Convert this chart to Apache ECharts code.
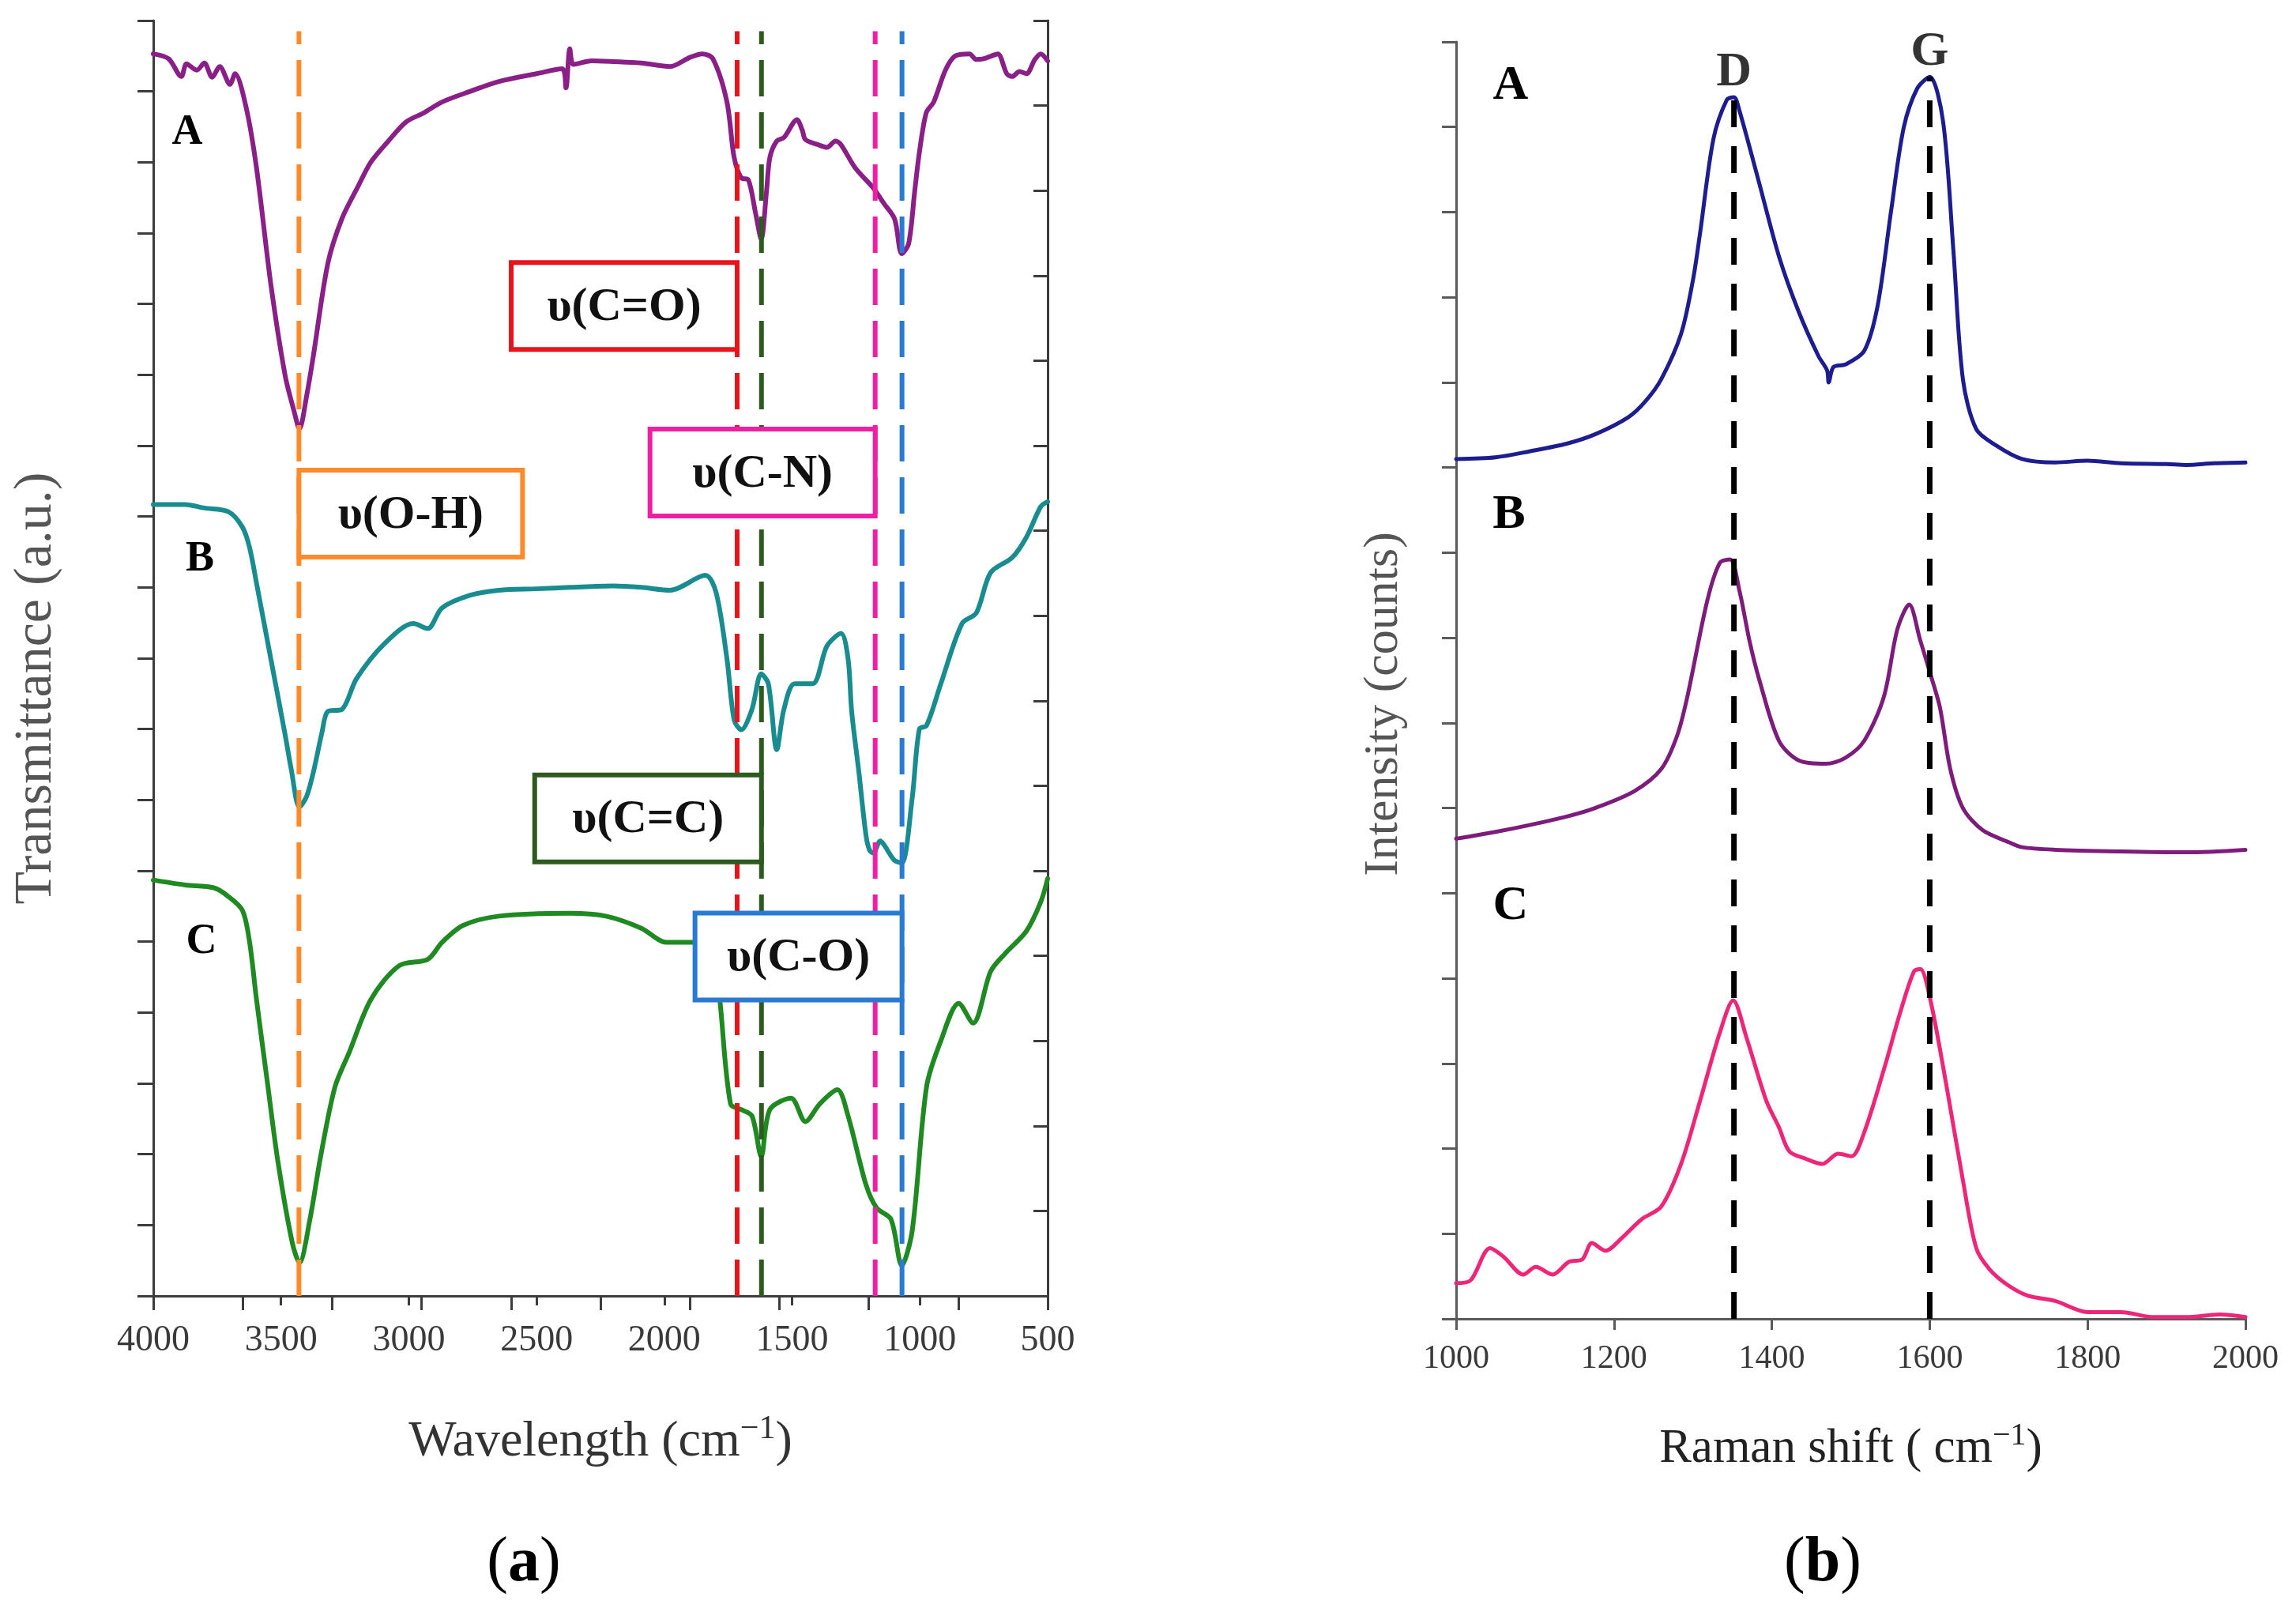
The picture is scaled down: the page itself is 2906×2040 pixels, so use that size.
<!DOCTYPE html>
<html>
<head>
<meta charset="utf-8">
<script src="https://cdn.jsdelivr.net/npm/echarts@6/dist/echarts.min.js"></script>
<style>
html, body { margin: 0; padding: 0; background: #fff; }
#chart { width: 2906px; height: 2040px; }
</style>
</head>
<body>
<div id="chart"></div>
<script>
// (a) FTIR spectra, wavenumber (cm-1) and stacked transmittance (a.u.)
var ftirA_x = [4000, 3940, 3890, 3870, 3830, 3800, 3770, 3740, 3700, 3680, 3637, 3596, 3540, 3484, 3450, 3428, 3400, 3373, 3317, 3261, 3200, 3149, 3080, 3010, 2940, 2870, 2760, 2647, 2500, 2400, 2385, 2370, 2355, 2285, 2200, 2090, 1978, 1900, 1852, 1810, 1755, 1727, 1699, 1671, 1643, 1621, 1600, 1587, 1560, 1532, 1481, 1460, 1448, 1400, 1364, 1330, 1309, 1253, 1183, 1141, 1099, 1071, 1044, 1020, 1002, 975, 946, 900, 862, 806, 780, 751, 720, 695, 660, 639, 610, 583, 550, 527, 500];
var ftirA_y = [17.53, 17.46, 17.21, 17.39, 17.30, 17.40, 17.20, 17.35, 17.10, 17.25, 16.78, 15.92, 14.28, 12.99, 12.50, 12.24, 12.70, 13.28, 14.57, 15.21, 15.65, 16.00, 16.30, 16.57, 16.70, 16.85, 17.00, 17.14, 17.25, 17.32, 17.05, 17.60, 17.38, 17.43, 17.42, 17.40, 17.35, 17.48, 17.53, 17.46, 16.85, 16.07, 15.78, 15.75, 15.28, 14.92, 15.60, 16.07, 16.30, 16.35, 16.60, 16.45, 16.32, 16.25, 16.21, 16.30, 16.25, 15.92, 15.64, 15.42, 15.20, 14.71, 14.85, 15.60, 16.14, 16.70, 16.85, 17.30, 17.50, 17.53, 17.45, 17.46, 17.50, 17.53, 17.25, 17.21, 17.28, 17.25, 17.45, 17.53, 17.43];

var ftirB_x = [4000, 3875, 3800, 3707, 3651, 3623, 3596, 3540, 3484, 3460, 3428, 3400, 3373, 3340, 3317, 3261, 3205, 3094, 2982, 2926, 2870, 2759, 2647, 2500, 2368, 2200, 2090, 1978, 1839, 1797, 1755, 1727, 1699, 1657, 1621, 1593, 1560, 1532, 1490, 1420, 1364, 1309, 1281, 1267, 1239, 1211, 1197, 1183, 1155, 1141, 1100, 1071, 1030, 1002, 974, 918, 835, 779, 723, 639, 583, 527, 500];
var ftirB_y = [11.17, 11.17, 11.12, 11.07, 10.85, 10.56, 10.06, 8.99, 7.92, 7.43, 6.90, 7.05, 7.40, 7.95, 8.25, 8.28, 8.71, 9.21, 9.49, 9.42, 9.71, 9.89, 9.96, 9.98, 10.00, 10.02, 10.00, 9.96, 10.17, 9.92, 8.99, 8.13, 7.99, 8.28, 8.78, 8.64, 7.71, 8.28, 8.64, 8.64, 9.17, 9.35, 8.99, 8.25, 7.40, 6.50, 6.29, 6.25, 6.42, 6.37, 6.15, 6.11, 7.03, 8.00, 8.05, 8.64, 9.49, 9.64, 10.21, 10.42, 10.71, 11.14, 11.21];

var ftirC_x = [4000, 3875, 3763, 3707, 3651, 3623, 3596, 3554, 3512, 3456, 3428, 3387, 3345, 3289, 3233, 3149, 3038, 2926, 2870, 2787, 2647, 2368, 2229, 2090, 1992, 1894, 1810, 1783, 1741, 1699, 1657, 1621, 1587, 1504, 1448, 1392, 1323, 1281, 1211, 1169, 1113, 1071, 1030, 974, 918, 848, 792, 723, 667, 583, 527, 500];
var ftirC_y = [5.87, 5.80, 5.76, 5.64, 5.44, 4.99, 4.18, 3.03, 1.89, 0.75, 0.47, 1.08, 1.97, 2.95, 3.44, 4.18, 4.66, 4.75, 4.99, 5.23, 5.36, 5.40, 5.36, 5.19, 4.99, 4.99, 4.91, 4.18, 2.71, 2.63, 2.54, 1.97, 2.63, 2.79, 2.46, 2.71, 2.91, 2.54, 1.57, 1.24, 1.08, 0.43, 0.92, 2.95, 3.60, 4.13, 3.85, 4.58, 4.83, 5.15, 5.56, 5.89];

var ftirTickLabels = ['4000', '3500', '3000', '2500', '2000', '1500', '1000', '500'];
var bandNames = ['υ(O-H)', 'υ(C=O)', 'υ(C=C)', 'υ(C-N)', 'υ(C-O)'];
var bandWavenumbers = [3430, 1715, 1620, 1175, 1070];

// (b) Raman spectra, shift (cm-1) and stacked intensity (counts)
var ramanA_x = [1000, 1050, 1093, 1140, 1176, 1218, 1240, 1260, 1285, 1300, 1309, 1326, 1343, 1352, 1359, 1384, 1409, 1434, 1459, 1470, 1472, 1478, 1493, 1517, 1534, 1551, 1567, 1584, 1600, 1617, 1630, 1642, 1659, 1684, 1717, 1759, 1800, 1842, 1900, 1925, 1960, 2000];
var ramanA_y = [10.10, 10.12, 10.19, 10.28, 10.39, 10.59, 10.78, 11.04, 11.57, 12.20, 12.75, 13.86, 14.32, 14.35, 14.19, 13.34, 12.48, 11.83, 11.31, 11.14, 11.00, 11.18, 11.21, 11.37, 11.90, 13.01, 13.99, 14.45, 14.59, 14.06, 12.55, 11.04, 10.45, 10.26, 10.10, 10.06, 10.08, 10.05, 10.04, 10.03, 10.05, 10.06];

var ramanB_x = [1000, 1050, 1093, 1140, 1176, 1226, 1260, 1280, 1293, 1318, 1334, 1347, 1359, 1372, 1384, 1409, 1434, 1468, 1493, 1517, 1542, 1559, 1574, 1588, 1601, 1613, 1626, 1642, 1667, 1700, 1717, 1759, 1842, 1925, 2000];
var ramanB_y = [5.64, 5.72, 5.80, 5.90, 6.00, 6.20, 6.46, 6.85, 7.31, 8.43, 8.88, 8.92, 8.55, 7.95, 7.51, 6.79, 6.56, 6.52, 6.59, 6.79, 7.31, 8.10, 8.39, 7.97, 7.57, 7.18, 6.46, 6.00, 5.74, 5.60, 5.54, 5.51, 5.49, 5.48, 5.51];

var ramanC_x = [1000, 1018, 1043, 1060, 1085, 1101, 1122, 1143, 1160, 1172, 1189, 1210, 1235, 1260, 1285, 1309, 1334, 1351, 1368, 1393, 1409, 1422, 1443, 1464, 1484, 1501, 1517, 1542, 1563, 1580, 1588, 1601, 1621, 1642, 1659, 1676, 1700, 1725, 1759, 1800, 1842, 1884, 1925, 1967, 2000];
var ramanC_y = [0.42, 0.45, 0.83, 0.73, 0.52, 0.61, 0.52, 0.67, 0.70, 0.89, 0.80, 0.95, 1.17, 1.32, 1.82, 2.56, 3.36, 3.74, 3.30, 2.56, 2.25, 1.97, 1.88, 1.82, 1.94, 1.91, 2.19, 2.93, 3.61, 4.08, 4.11, 3.74, 2.75, 1.63, 0.83, 0.58, 0.39, 0.27, 0.21, 0.08, 0.08, 0.02, 0.02, 0.05, 0.02];

var ramanTickLabels = ['1000', '1200', '1400', '1600', '1800', '2000'];
var ramanBandNames = ['D', 'G'];
var ramanBandShifts = [1352, 1600];
var ramanBandTops = [14.35, 14.59];

function pairs(xs, ys) {
    return xs.map(function (x, i) { return [x, ys[i]]; });
}

var serif = '"Liberation Serif", "Times New Roman", serif';
var bandColors = ['#ff8a2a', '#e8141c', '#2d5a1e', '#ee1fa0', '#2a7ad2'];
var bandBoxes = [
    { level: 11.04, side: 1, width: 283 },
    { level: 13.97, side: -1, width: 286 },
    { level: 6.74, side: -1, width: 287 },
    { level: 11.62, side: -1, width: 285 },
    { level: 4.79, side: -1, width: 262 }
];
var dashTop = 17.85;

var myChart = echarts.init(document.getElementById('chart'));

var ftirMin = +ftirTickLabels[ftirTickLabels.length - 1];
var ftirMax = +ftirTickLabels[0];
var ramanMin = +ramanTickLabels[0];
var ramanMax = +ramanTickLabels[ramanTickLabels.length - 1];

function curve(name, data, color, xi, width) {
    return {
        name: name, type: 'line', xAxisIndex: xi, yAxisIndex: xi === 2 ? 2 : 0,
        data: data, showSymbol: false, smooth: 0.3,
        lineStyle: { color: color, width: width, cap: 'round', join: 'round' }, z: 2, silent: true
    };
}

var series = [
    curve('A', pairs(ftirA_x, ftirA_y), '#8b1f88', 0, 6),
    curve('B', pairs(ftirB_x, ftirB_y), '#188c8e', 0, 6),
    curve('C', pairs(ftirC_x, ftirC_y), '#1f8a22', 0, 6),
    curve('A', pairs(ramanA_x, ramanA_y), '#1d1d8f', 2, 5),
    curve('B', pairs(ramanB_x, ramanB_y), '#7e1c7c', 2, 5),
    curve('C', pairs(ramanC_x, ramanC_y), '#ee2678', 2, 5)
];

// dashed band markers in (a)
bandWavenumbers.forEach(function (w, i) {
    series.push({
        type: 'line', xAxisIndex: 0, yAxisIndex: 0, showSymbol: false, silent: true,
        data: [[w, 0], [w, dashTop]], z: 3,
        lineStyle: { color: bandColors[i], width: 6, type: [46, 20] }
    });
});

// labelled boxes for the bands
series.push({
    type: 'custom', xAxisIndex: 0, yAxisIndex: 0, z: 4, silent: true,
    data: bandWavenumbers.map(function (w, i) { return [w, bandBoxes[i].level]; }),
    renderItem: function (params, api) {
        var i = params.dataIndex;
        var p = api.coord([api.value(0), api.value(1)]);
        var b = bandBoxes[i];
        var h = 110;
        var x0 = b.side < 0 ? p[0] - b.width : p[0];
        return {
            type: 'group',
            children: [{
                type: 'rect',
                shape: { x: x0, y: p[1] - h / 2, width: b.width, height: h },
                style: { fill: '#fff', stroke: bandColors[i], lineWidth: 6 }
            }, {
                type: 'text',
                style: {
                    x: x0 + b.width / 2, y: p[1] + 2, text: bandNames[i],
                    align: 'center', verticalAlign: 'middle',
                    font: 'bold 60px ' + serif, fill: '#111'
                }
            }]
        };
    }
});

// D and G dashed lines in (b)
ramanBandShifts.forEach(function (r, i) {
    series.push({
        type: 'line', xAxisIndex: 2, yAxisIndex: 2, showSymbol: false, silent: true,
        data: [[r, 0], [r, ramanBandTops[i]]], z: 3,
        lineStyle: { color: '#000', width: 7, type: [34, 24] }
    });
});
series.push({
    type: 'scatter', xAxisIndex: 2, yAxisIndex: 2, silent: true, symbolSize: 0, z: 5,
    data: ramanBandShifts.map(function (r, i) { return [r, ramanBandTops[i]]; }),
    label: {
        show: true, position: 'top', distance: 0,
        formatter: function (p) { return ramanBandNames[p.dataIndex]; },
        fontFamily: serif, fontWeight: 'bold', fontSize: 62, color: '#000'
    }
});

var option = {
    animation: false,
    backgroundColor: '#fff',
    grid: [
        { left: 194, right: 1580, top: 26, bottom: 400, outerBoundsMode: 'none' },
        { left: 1843, right: 64, top: 53, bottom: 371, outerBoundsMode: 'none' }
    ],
    xAxis: [{
        gridIndex: 0, type: 'value', inverse: true, position: 'bottom',
        min: ftirMin, max: ftirMax, interval: 500,
        axisLine: { lineStyle: { color: '#3c3c3c', width: 3 } },
        axisTick: { inside: false, length: 12, lineStyle: { color: '#3c3c3c', width: 3 } },
        axisLabel: {
            margin: 34, fontSize: 46, fontFamily: serif, color: '#3a3a3a',
            showMinLabel: true, showMaxLabel: true,
            formatter: function (v) { return ftirTickLabels[ftirTickLabels.indexOf(String(v))] || ''; }
        },
        splitLine: { show: false },
        name: 'Wavelength (cm{s|−1})', nameLocation: 'middle', nameGap: 148,
        nameTextStyle: {
            fontFamily: serif, fontSize: 64, color: '#333', lineHeight: 74,
            rich: { s: { fontFamily: serif, fontSize: 42, lineHeight: 38, verticalAlign: 'top', color: '#333' } }
        }
    }, {
        gridIndex: 0, type: 'value', inverse: true, position: 'top',
        min: ftirMin, max: ftirMax, interval: 350,
        axisLine: { lineStyle: { color: '#3c3c3c', width: 3 } },
        axisTick: { inside: true, length: 18, lineStyle: { color: '#3c3c3c', width: 3 } },
        axisLabel: { show: false }, splitLine: { show: false }
    }, {
        gridIndex: 1, type: 'value', min: ramanMin, max: ramanMax, interval: 200,
        axisLine: { lineStyle: { color: '#5a5a5a', width: 3 } },
        axisTick: { inside: false, length: 14, lineStyle: { color: '#5a5a5a', width: 3 } },
        axisLabel: {
            margin: 30, fontSize: 42, fontFamily: serif, color: '#3a3a3a',
            showMinLabel: true, showMaxLabel: true,
            formatter: function (v) { return ramanTickLabels[ramanTickLabels.indexOf(String(v))] || ''; }
        },
        splitLine: { show: false },
        name: 'Raman shift ( cm{s|−1})', nameLocation: 'middle', nameGap: 128,
        nameTextStyle: {
            fontFamily: serif, fontSize: 61, color: '#222', lineHeight: 74,
            rich: { s: { fontFamily: serif, fontSize: 40, lineHeight: 38, verticalAlign: 'top', color: '#222' } }
        }
    }],
    yAxis: [{
        gridIndex: 0, type: 'value', min: 0, max: 18, interval: 1,
        axisLine: { lineStyle: { color: '#3c3c3c', width: 3 } },
        axisTick: { inside: false, length: 20, lineStyle: { color: '#3c3c3c', width: 3 } },
        axisLabel: { show: false }, splitLine: { show: false },
        name: 'Transmittance (a.u.)', nameLocation: 'middle', nameGap: 114,
        nameTextStyle: { fontFamily: serif, fontSize: 68, color: '#555', padding: [0, 76, 0, 0] }
    }, {
        gridIndex: 0, type: 'value', position: 'right', min: 0, max: 15, interval: 1,
        axisLine: { show: true, lineStyle: { color: '#3c3c3c', width: 3 } },
        axisTick: { inside: true, length: 18, lineStyle: { color: '#3c3c3c', width: 3 } },
        axisLabel: { show: false }, splitLine: { show: false }
    }, {
        gridIndex: 1, type: 'value', min: 0, max: 15, interval: 1,
        axisLine: { show: true, lineStyle: { color: '#5a5a5a', width: 3 } },
        axisTick: { inside: false, length: 18, lineStyle: { color: '#5a5a5a', width: 3 } },
        axisLabel: { show: false }, splitLine: { show: false },
        name: 'Intensity (counts)', nameLocation: 'middle', nameGap: 60,
        nameTextStyle: { fontFamily: serif, fontSize: 62, color: '#555', padding: [0, 60, 0, 0] }
    }],
    graphic: [
        { type: 'text', x: 237, y: 168, style: { text: 'A', font: 'bold 54px ' + serif, fill: '#000', align: 'center', verticalAlign: 'middle' } },
        { type: 'text', x: 253, y: 708, style: { text: 'B', font: 'bold 54px ' + serif, fill: '#000', align: 'center', verticalAlign: 'middle' } },
        { type: 'text', x: 255, y: 1192, style: { text: 'C', font: 'bold 54px ' + serif, fill: '#000', align: 'center', verticalAlign: 'middle' } },
        { type: 'text', x: 1912, y: 109, style: { text: 'A', font: 'bold 62px ' + serif, fill: '#000', align: 'center', verticalAlign: 'middle' } },
        { type: 'text', x: 1910, y: 652, style: { text: 'B', font: 'bold 62px ' + serif, fill: '#000', align: 'center', verticalAlign: 'middle' } },
        { type: 'text', x: 1912, y: 1147, style: { text: 'C', font: 'bold 62px ' + serif, fill: '#000', align: 'center', verticalAlign: 'middle' } },
        {
            type: 'text', x: 663, y: 1979,
            style: {
                text: '({b|a})', font: '80px ' + serif, fill: '#000', align: 'center', verticalAlign: 'middle',
                rich: { b: { font: 'bold 80px ' + serif, fill: '#000' } }
            }
        },
        {
            type: 'text', x: 2307, y: 1979,
            style: {
                text: '({b|b})', font: '80px ' + serif, fill: '#000', align: 'center', verticalAlign: 'middle',
                rich: { b: { font: 'bold 80px ' + serif, fill: '#000' } }
            }
        }
    ],
    series: series
};

myChart.setOption(option);
</script>
</body>
</html>
